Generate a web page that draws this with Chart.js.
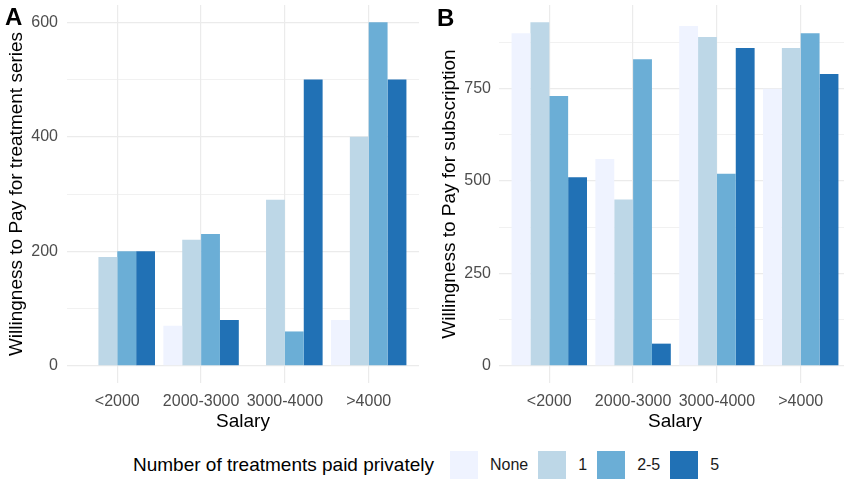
<!DOCTYPE html>
<html>
<head>
<meta charset="utf-8">
<script src="https://cdn.jsdelivr.net/npm/chart.js@4.4.1/dist/chart.umd.min.js"></script>
<style>
  html, body { margin: 0; padding: 0; background: #fff; width: 844px; height: 483px; overflow: hidden; }
  .panel { position: absolute; top: 0; height: 440px; }
  #panelA { left: 0; width: 430px; }
  #panelB { left: 430px; width: 421px; }
  .tag { position: absolute; font: bold 24px "Liberation Sans", Arial, sans-serif; line-height: 24px; color: #000; }
  #legend { position: absolute; left: 133px; top: 451px; height: 28px; display: flex; align-items: center;
            font-family: "Liberation Sans", Arial, sans-serif; color: #000; white-space: nowrap; }
  #legend .title { font-size: 19px; margin-right: 16px; }
  #legend .key { width: 28px; height: 28px; margin-right: 12px; }
  #legend .lab { font-size: 16px; margin-right: 10px; color: #1a1a1a; }
</style>
</head>
<body>
<div class="panel" id="panelA"><canvas id="chartA"></canvas></div>
<div class="panel" id="panelB"><canvas id="chartB"></canvas></div>
<div class="tag" style="left:5px; top:5px;">A</div>
<div class="tag" style="left:437px; top:6px;">B</div>
<div id="legend"></div>

<script>
// categories and groups
const salary = ['<2000', '2000-3000', '3000-4000', '>4000'];
const groups = ['None', '1', '2-5', '5'];
const groupColors = ['#eff3ff', '#bdd7e7', '#6baed6', '#2171b5'];

// A: willingness to pay for treatment series (by salary)
const treatNone = [null, 70, null, 80];
const treat1 = [190, 220, 290, 400];
const treat25 = [200, 230, 60, 600];
const treat5 = [200, 80, 500, 500];

// B: willingness to pay for subscription (by salary)
const subNone = [900, 560, 920, 750];
const sub1 = [930, 450, 890, 860];
const sub25 = [730, 830, 520, 900];
const sub5 = [510, 60, 860, 790];

// y grid lines and labelled ticks
const gridA = [0, 100, 200, 300, 400, 500, 600];
const labelsA = [0, 200, 400, 600];
const gridB = [0, 125, 250, 375, 500, 625, 750, 875];
const labelsB = [0, 250, 500, 750];

function makePanel(id, series, yMin, yMax, grid, labels, yTitle, axisWidth, yTitlePad, yTickPad, padRight) {
    const ctx = document.getElementById(id).getContext('2d');
    return new Chart(ctx, {
        type: 'bar',
        data: {
            datasets: series.map(function (vals, i) {
                return {
                    label: groups[i],
                    data: vals.map(function (v, j) { return { x: j, y: v }; }),
                    backgroundColor: groupColors[i],
                    borderWidth: 0,
                    categoryPercentage: 0.9,
                    barPercentage: 1.0
                };
            })
        },
        options: {
            responsive: true,
            maintainAspectRatio: false,
            animation: false,
            layout: { padding: { top: 5, right: padRight, bottom: 0, left: 0 } },
            plugins: { legend: { display: false }, tooltip: { enabled: false } },
            scales: {
                x: {
                    type: 'linear',
                    min: -0.6,
                    max: 3.6,
                    offset: false,
                    afterBuildTicks: function (scale) {
                        scale.ticks = salary.map(function (s, j) { return { value: j }; });
                    },
                    afterFit: function (scale) {
                        scale.height = 57;
                        scale.paddingLeft = 0;
                        scale.paddingRight = 0;
                    },
                    grid: { color: '#ebebeb', lineWidth: 1.2, drawTicks: false, offset: false },
                    border: { display: false },
                    ticks: {
                        autoSkip: false,
                        maxRotation: 0,
                        padding: 9,
                        color: '#4d4d4d',
                        font: { family: '"Liberation Sans", Arial, sans-serif', size: 16 },
                        callback: function (v) { return salary[v]; }
                    },
                    title: {
                        display: true,
                        text: 'Salary',
                        color: '#000',
                        font: { family: '"Liberation Sans", Arial, sans-serif', size: 19 },
                        padding: { top: 0, bottom: 6.6 }
                    }
                },
                y: {
                    min: yMin,
                    max: yMax,
                    afterBuildTicks: function (scale) {
                        scale.ticks = grid.map(function (v) { return { value: v }; });
                    },
                    afterFit: function (scale) {
                        scale.width = axisWidth;
                        scale.paddingTop = 0;
                        scale.paddingBottom = 0;
                    },
                    grid: {
                        color: '#ebebeb',
                        drawTicks: false,
                        lineWidth: function (c) { return labels.indexOf(c.tick.value) >= 0 ? 1.2 : 0.7; }
                    },
                    border: { display: false },
                    ticks: {
                        padding: yTickPad,
                        color: '#4d4d4d',
                        font: { family: '"Liberation Sans", Arial, sans-serif', size: 16 },
                        callback: function (v) { return labels.indexOf(v) >= 0 ? String(v) : ''; }
                    },
                    title: {
                        display: true,
                        text: yTitle,
                        color: '#000',
                        font: { family: '"Liberation Sans", Arial, sans-serif', size: 19 },
                        padding: { top: yTitlePad, bottom: 0 }
                    }
                }
            }
        }
    });
}

makePanel('chartA', [treatNone, treat1, treat25, treat5], -30, 630, gridA, labelsA,
    'Willingness to Pay for treatment series', 67, 5.6, 9, 11);
makePanel('chartB', [subNone, sub1, sub25, sub5], -46.5, 976.5, gridB, labelsB,
    'Willingness to Pay for subscription', 69, 8.6, 8, 0);

// shared legend
const legend = document.getElementById('legend');
const lt = document.createElement('span');
lt.className = 'title';
lt.textContent = 'Number of treatments paid privately';
legend.appendChild(lt);
groups.forEach(function (g, i) {
    const key = document.createElement('span');
    key.className = 'key';
    key.style.background = groupColors[i];
    legend.appendChild(key);
    const lab = document.createElement('span');
    lab.className = 'lab';
    lab.textContent = g;
    legend.appendChild(lab);
});
</script>
</body>
</html>
